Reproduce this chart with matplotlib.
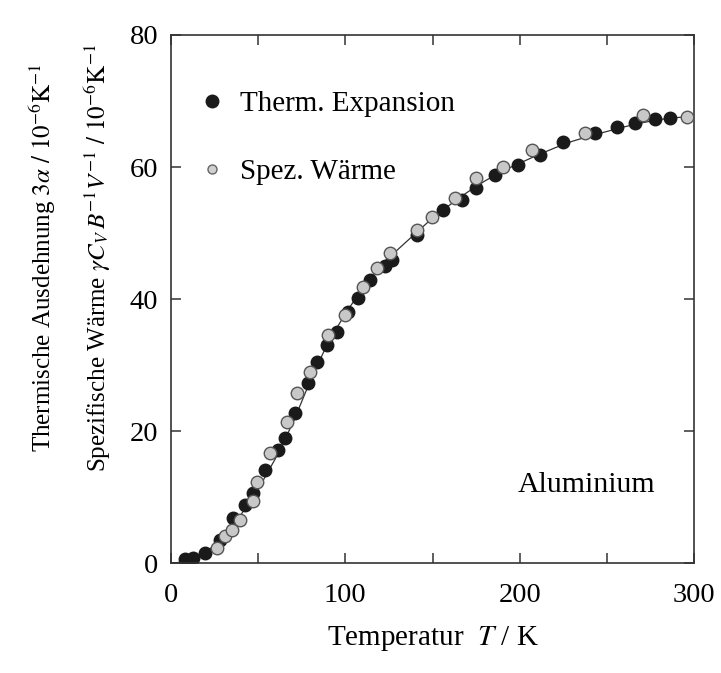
import numpy as np
import matplotlib
matplotlib.use('Agg')
import matplotlib.pyplot as plt
from matplotlib.lines import Line2D
from matplotlib.ticker import MultipleLocator

plt.rcParams['font.family'] = ['Liberation Serif', 'DejaVu Serif']
plt.rcParams['mathtext.fontset'] = 'stix'

# thermal expansion 3*alpha (black dots)
T_exp = [8.0, 12.6, 19.5, 28.1, 35.6, 42.5, 47.0, 53.9, 61.4, 65.4, 71.1, 78.6,
         83.8, 89.5, 95.2, 101.5, 107.3, 114.2, 122.8, 126.8, 141.1, 156.1,
         167.0, 175.0, 185.9, 199.1, 211.7, 224.9, 243.3, 255.9, 266.2, 277.7,
         286.3]
v_exp = [0.6, 0.8, 1.5, 3.5, 6.8, 8.8, 10.6, 14.1, 17.1, 18.9, 22.7, 27.3,
         30.5, 33.0, 35.0, 38.0, 40.2, 42.9, 45.0, 45.9, 49.7, 53.5,
         55.0, 56.8, 58.8, 60.3, 61.8, 63.8, 65.2, 66.1, 66.7, 67.3,
         67.4]

# specific heat gamma*Cv/(B*V) (grey dots)
T_cv = [26.4, 31.0, 35.0, 39.6, 47.0, 49.3, 56.8, 66.6, 72.3, 79.7, 90.1, 99.8,
        110.2, 118.2, 125.6, 141.1, 149.7, 162.9, 175.0, 190.5, 207.1, 237.5,
        270.8, 296.0]
v_cv = [2.3, 4.2, 5.0, 6.5, 9.5, 12.3, 16.7, 21.4, 25.8, 28.9, 34.5, 37.6,
        41.8, 44.7, 47.0, 50.5, 52.4, 55.3, 58.3, 60.0, 62.6, 65.2,
        67.9, 67.6]

# smooth curve through the data
T_fit = [0, 10, 20, 30, 40, 50, 60, 70, 80, 90, 100, 110, 120, 130, 140, 150,
         160, 170, 180, 190, 200, 210, 220, 230, 240, 250, 260, 270, 280, 290, 296]
v_fit = [0, 0.3, 1.6, 4.0, 7.3, 11.2, 15.9, 21.3, 27.7, 33.4, 37.8, 41.7, 45.0,
         47.5, 49.9, 52.3, 54.3, 56.2, 57.9, 59.4, 60.6, 61.8, 62.9, 63.9, 64.7,
         65.4, 66.1, 66.7, 67.2, 67.5, 67.6]

fig = plt.figure(figsize=(7.21, 6.73), dpi=100)
ax = fig.add_axes([0.237, 0.163, 0.726, 0.785])

ax.plot(T_fit, v_fit, '-', color='#333333', lw=0.9, zorder=1)
ax.plot(T_exp, v_exp, 'o', color='#1a1a1a', ms=9, mec='#1a1a1a', zorder=2)
ax.plot(T_cv, v_cv, 'o', mfc='#c8c8c8', mec='#555555', mew=1.0, ms=9, zorder=3)

ax.set_xlim(0, 300)
ax.set_ylim(0, 80)
ax.xaxis.set_major_locator(MultipleLocator(100))
ax.xaxis.set_minor_locator(MultipleLocator(50))
ax.yaxis.set_major_locator(MultipleLocator(20))
ax.tick_params(which='both', direction='in', top=True, right=True,
               length=7, width=1.1, color='#333333')
ax.tick_params(axis='x', pad=14, labelsize=20.5)
ax.tick_params(axis='y', pad=9, labelsize=20.5)
for s in ax.spines.values():
    s.set_color('#333333')
    s.set_linewidth(1.2)

ax.set_xlabel('Temperatur  $T$ / K', fontsize=21, labelpad=12)

fig.text(0.060, 0.617, r'Thermische Ausdehnung $3\alpha\ /\ 10^{-6}\mathrm{K}^{-1}$',
         rotation=90, ha='center', va='center', fontsize=18)
fig.text(0.135, 0.617,
         r'Spezifische Wärme $\gamma C_V\, B^{-1} V^{-1}\ /\ 10^{-6}\mathrm{K}^{-1}$',
         rotation=90, ha='center', va='center', fontsize=18)

ax.text(238, 11.8, 'Aluminium', ha='center', va='center', fontsize=21.5)

handles = [Line2D([], [], ls='none', marker='o', color='#1a1a1a', ms=9),
           Line2D([], [], ls='none', marker='o', mfc='#d0d0d0', mec='#666666', ms=6.5)]
ax.legend(handles, ['Therm. Expansion', 'Spez. Wärme'], loc='upper left',
          bbox_to_anchor=(0.0505, 0.895), frameon=False, fontsize=21,
          handlelength=1.0, handletextpad=0.46, labelspacing=1.43,
          borderaxespad=0, borderpad=0)

fig.savefig('out.png', dpi=100)
